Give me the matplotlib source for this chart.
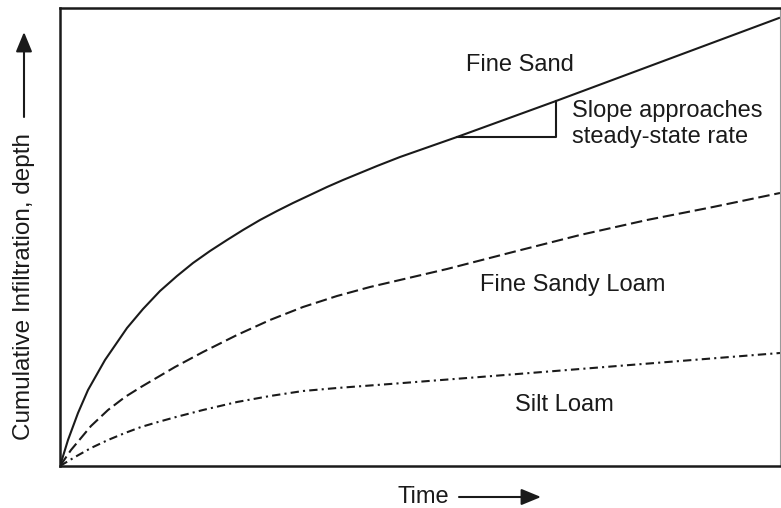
import matplotlib
matplotlib.use("Agg")
import matplotlib.pyplot as plt

plt.rcParams['font.family'] = ['Liberation Sans', 'DejaVu Sans']

# curvas (tempo x infiltracao acumulada, unidades arbitrarias)
sand_t = [0, 8, 18, 28, 45, 67, 83, 100, 117, 133, 150, 167, 183, 200, 217, 233,
          250, 267, 283, 300, 317, 340, 397, 496, 719]
sand_d = [0, 26, 53, 76, 106, 138, 157, 175, 190, 203, 215, 226, 236, 246, 255, 263,
          271, 279, 286, 293, 300, 309, 329, 365, 448]

loam_t = [0, 11, 31, 48, 65, 81, 98, 115, 143, 177, 210, 243, 277, 310, 387, 453,
          520, 587, 653, 720]
loam_d = [0, 16, 40, 56, 69, 79, 89, 99, 114, 131, 146, 159, 170, 179, 197, 214,
          231, 246, 259, 273]

silt_t = [0, 15, 31, 48, 65, 81, 98, 116, 143, 177, 210, 243, 277, 310, 330, 420,
          520, 620, 720]
silt_d = [0, 9, 18, 26, 33, 39, 44, 49, 56, 64, 70, 75, 78, 80.5, 82, 89,
          97, 105, 113]

ink = '#1a1a1a'

fig = plt.figure(figsize=(7.81, 5.08), dpi=100)
ax = fig.add_axes([60/781, 1-466/508, 720/781, 458/508])

ax.plot(sand_t, sand_d, color=ink, lw=1.5, solid_joinstyle='round')
ax.plot(loam_t, loam_d, color=ink, lw=1.5, linestyle=(0, (5.5, 2.3)))
ax.plot(silt_t, silt_d, color=ink, lw=1.5, linestyle=(0, (4, 2, 1, 2)))

# triangulo da declividade
t1, t2 = sand_t[-3], sand_t[-2]
d1, d2 = sand_d[-3], sand_d[-2]
ax.plot([t1, t2, t2], [d1, d1, d2], color=ink, lw=1.5)

ax.set_xlim(0, 720)
ax.set_ylim(0, 458)
ax.set_xticks([])
ax.set_yticks([])
for s in ['left', 'top', 'bottom']:
    ax.spines[s].set_linewidth(1.8)
    ax.spines[s].set_color(ink)
ax.spines['right'].set_linewidth(0.8)
ax.spines['right'].set_color('#9a9a9a')

fs = 17
ax.text(460, 401, 'Fine Sand', fontsize=fs, color=ink, ha='center', va='center')
ax.text(512, 342, 'Slope approaches\nsteady-state rate', fontsize=fs, color=ink,
        ha='left', va='center', linespacing=1.2)
ax.text(513, 181, 'Fine Sandy Loam', fontsize=fs, color=ink, ha='center', va='center')
ax.text(504, 61, 'Silt Loam', fontsize=fs, color=ink, ha='center', va='center')

# rotulos dos eixos com setas
fig.text(24/781, 1-287/508, 'Cumulative Infiltration, depth', fontsize=17.5, color=ink,
         rotation=90, ha='center', va='center')
fig.text(423/781, 1-497/508, 'Time', fontsize=fs, color=ink, ha='center', va='center')

arrow = dict(arrowstyle='-|>,head_length=0.8,head_width=0.33', color=ink, lw=1.5,
             mutation_scale=15, shrinkA=0, shrinkB=0)
ax.annotate('', xy=(24/781, 1-32/508), xytext=(24/781, 1-117/508),
            xycoords='figure fraction', textcoords='figure fraction',
            arrowprops=arrow, annotation_clip=False)
ax.annotate('', xy=(541/781, 1-497/508), xytext=(459/781, 1-497/508),
            xycoords='figure fraction', textcoords='figure fraction',
            arrowprops=arrow, annotation_clip=False)

plt.savefig('out.png', dpi=100)
